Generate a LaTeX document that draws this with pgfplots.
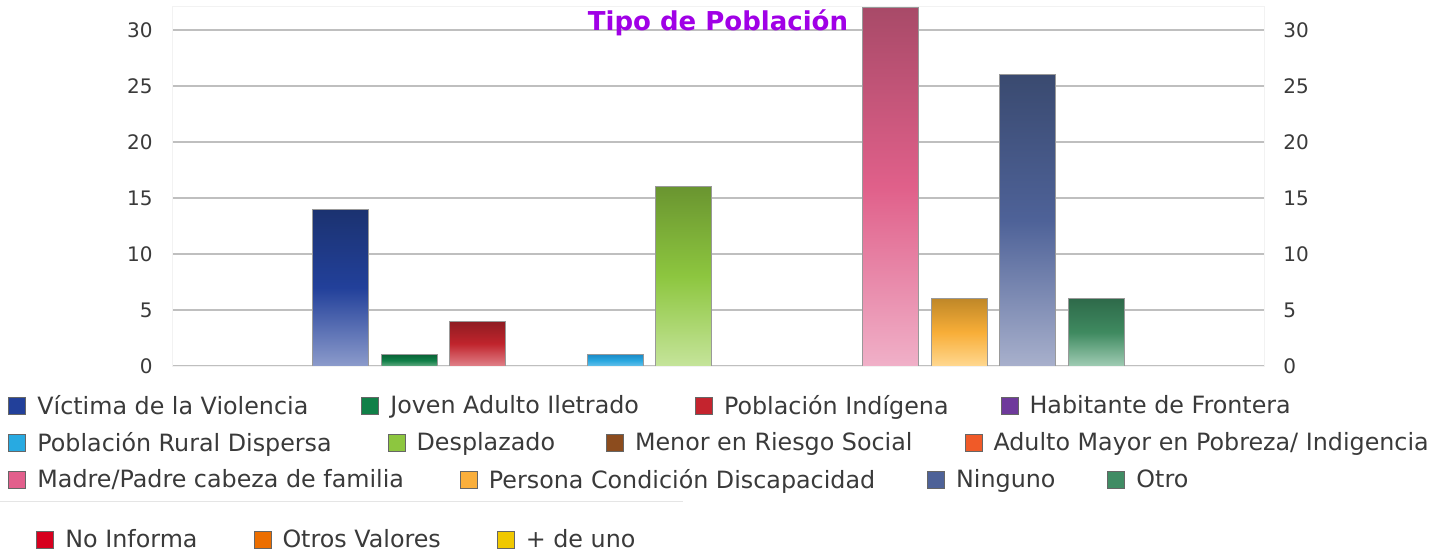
\documentclass[border=0pt]{standalone}
\usepackage{fontspec}
\setmainfont{DejaVu Sans}
\usepackage{pgfplots}
\pgfplotsset{compat=1.18}

% bar gradients (top / middle / bottom)
\definecolor{vicT}{RGB}{27,50,112}\definecolor{vicM}{RGB}{34,64,154}\definecolor{vicB}{RGB}{140,155,203}
\definecolor{jovT}{RGB}{10,100,55}\definecolor{jovM}{RGB}{16,128,72}\definecolor{jovB}{RGB}{96,168,128}
\definecolor{indT}{RGB}{142,28,34}\definecolor{indM}{RGB}{192,36,44}\definecolor{indB}{RGB}{224,128,136}
\definecolor{rurT}{RGB}{28,140,200}\definecolor{rurM}{RGB}{42,168,224}\definecolor{rurB}{RGB}{100,192,234}
\definecolor{desT}{RGB}{106,149,48}\definecolor{desM}{RGB}{141,198,63}\definecolor{desB}{RGB}{197,228,154}
\definecolor{madT}{RGB}{168,74,104}\definecolor{madM}{RGB}{224,96,138}\definecolor{madB}{RGB}{240,176,200}
\definecolor{perT}{RGB}{192,136,40}\definecolor{perM}{RGB}{248,174,56}\definecolor{perB}{RGB}{255,216,144}
\definecolor{ninT}{RGB}{58,74,112}\definecolor{ninM}{RGB}{78,98,152}\definecolor{ninB}{RGB}{168,176,204}
\definecolor{otrT}{RGB}{46,106,74}\definecolor{otrM}{RGB}{63,138,96}\definecolor{otrB}{RGB}{160,204,180}
% legend colours
\definecolor{Lvic}{RGB}{34,64,154}\definecolor{Ljov}{RGB}{16,128,72}\definecolor{Lind}{RGB}{196,36,46}
\definecolor{Lhab}{RGB}{110,58,155}\definecolor{Lrur}{RGB}{40,170,225}\definecolor{Ldes}{RGB}{141,198,63}
\definecolor{Lmen}{RGB}{140,76,30}\definecolor{Ladu}{RGB}{240,90,40}\definecolor{Lmad}{RGB}{226,95,140}
\definecolor{Lper}{RGB}{250,175,60}\definecolor{Lnin}{RGB}{78,98,152}\definecolor{Lotr}{RGB}{64,140,100}
\definecolor{Lnoi}{RGB}{215,0,30}\definecolor{Lotv}{RGB}{236,110,0}\definecolor{Lmas}{RGB}{240,200,0}
\definecolor{ttl}{RGB}{160,0,230}
\definecolor{txt}{RGB}{58,58,58}

\newcommand{\tight}[2]{\makebox[\dimexpr\width-#1\relax][l]{#2}}

\pgfplotsset{
  base/.style={width=546bp,height=180bp,scale only axis,
    xmin=172,xmax=1264,ymin=0,ymax=32.14,
    at={(86bp,94bp)},anchor=south west},
  legstyle/.style={
    legend columns=-1, legend cell align=left,
    legend style={draw=none,fill=none,inner sep=0pt,anchor=west,
      font=\fontsize{11.9bp}{14bp}\selectfont,text=txt,
      nodes={inner xsep=0pt},
      /tikz/every odd column/.append style={column sep=5.5bp},
      /tikz/every even column/.append style={column sep=28bp}},
    legend image code/.code={\draw[##1] (0bp,-4.25bp) rectangle (8.5bp,4.25bp);}},
  bar/.style={ybar,bar width=56,bar shift=0pt,forget plot,draw=black!40,line width=0.5bp},
  sq/.style={fill=#1,draw=black!60,line width=0.5bp}
}

\begin{document}
\begin{tikzpicture}
\path[use as bounding box] (0,0) rectangle (726bp,277bp);
\begin{axis}[base,
  axis line style={draw=black!5},
  ytick={0,5,...,30}, xtick=\empty,
  ymajorgrids, grid style={line width=1bp,draw=black!25},
  major tick length=0pt,
  /pgf/number format/assume math mode=true,
  yticklabel style={font=\fontsize{10bp}{12bp}\selectfont,text=txt,inner xsep=0pt,xshift=-9.5bp},
  title={Tipo de Población},
  title style={at={(0.5,0.928)},anchor=base,yshift=-5.5bp,font=\bfseries\fontsize{13bp}{15bp}\selectfont,text=ttl},
  legstyle, legend style={at={(-0.15018,-0.1111)}}]
\addlegendimage{sq=Lvic}\addlegendentry{\tight{1.5bp}{Víctima de la Violencia}}
\addlegendimage{sq=Ljov}\addlegendentry{Joven Adulto Iletrado}
\addlegendimage{sq=Lind}\addlegendentry{\tight{2bp}{Población Indígena}}
\addlegendimage{sq=Lhab}\addlegendentry{Habitante de Frontera}
\addplot[bar,top color=vicT,bottom color=vicB,middle color=vicM] coordinates {(340,14)};
\addplot[bar,top color=jovT,bottom color=jovB,middle color=jovM] coordinates {(409,1)};
\addplot[bar,top color=indT,bottom color=indB,middle color=indM] coordinates {(477.5,4)};
\addplot[bar,top color=rurT,bottom color=rurB,middle color=rurM] coordinates {(615,1)};
\addplot[bar,top color=desT,bottom color=desB,middle color=desM] coordinates {(683,16)};
\addplot[bar,top color=madT,bottom color=madB,middle color=madM] coordinates {(890,32)};
\addplot[bar,top color=perT,bottom color=perB,middle color=perM] coordinates {(959,6)};
\addplot[bar,top color=ninT,bottom color=ninB,middle color=ninM] coordinates {(1027,26)};
\addplot[bar,top color=otrT,bottom color=otrB,middle color=otrM] coordinates {(1096,6)};
\end{axis}
% right tick labels
\begin{axis}[base, axis x line=none, axis y line*=right,
  y axis line style={draw=none}, ytick={0,5,...,30}, major tick length=0pt,
  /pgf/number format/assume math mode=true,
  yticklabel style={font=\fontsize{10bp}{12bp}\selectfont,text=txt,inner xsep=0pt,xshift=9.5bp}]
\addplot[draw=none] coordinates {(200,0)};
\end{axis}
% legend row 2
\begin{axis}[base, hide axis, legstyle, legend style={at={(-0.15018,-0.2139)}}]
\addplot[draw=none,forget plot] coordinates {(200,0)};
\addlegendimage{sq=Lrur}\addlegendentry{Población Rural Dispersa}
\addlegendimage{sq=Ldes}\addlegendentry{\tight{2.5bp}{Desplazado}}
\addlegendimage{sq=Lmen}\addlegendentry{\tight{2bp}{Menor en Riesgo Social}}
\addlegendimage{sq=Ladu}\addlegendentry{Adulto Mayor en Pobreza/ Indigencia}
\end{axis}
% legend row 3
\begin{axis}[base, hide axis, legstyle, legend style={at={(-0.15018,-0.3167)}}]
\addplot[draw=none,forget plot] coordinates {(200,0)};
\addlegendimage{sq=Lmad}\addlegendentry{Madre/Padre cabeza de familia}
\addlegendimage{sq=Lper}\addlegendentry{\tight{2bp}{Persona Condición Discapacidad}}
\addlegendimage{sq=Lnin}\addlegendentry{\tight{2bp}{Ninguno}}
\addlegendimage{sq=Lotr}\addlegendentry{Otro}
\end{axis}
% legend row 4
\begin{axis}[base, hide axis, legstyle, legend style={at={(-0.12454,-0.4833)}}]
\addplot[draw=none,forget plot] coordinates {(200,0)};
\addlegendimage{sq=Lnoi}\addlegendentry{No Informa}
\addlegendimage{sq=Lotv}\addlegendentry{Otros Valores}
\addlegendimage{sq=Lmas}\addlegendentry{+ de uno}
\end{axis}
\draw[black!10,line width=0.5bp] (0,26bp) -- (341.5bp,26bp);
\end{tikzpicture}
\end{document}
